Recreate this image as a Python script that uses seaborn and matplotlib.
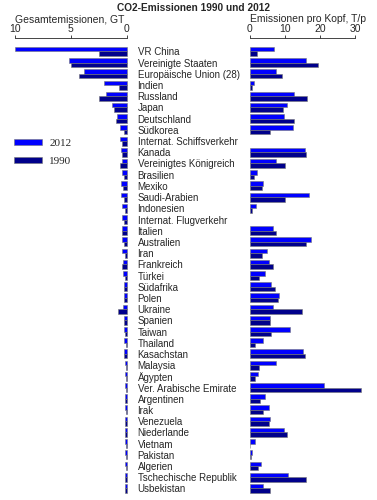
# -*- coding: utf-8 -*-
"""
CO2-Emissionen 1990 und 2012 - Gesamt und pro Kopf
"""

import numpy as np
import pandas as pd
import matplotlib
matplotlib.use('Agg')
import matplotlib.pyplot as plt
import seaborn as sns

laender = ['VR China', 'Vereinigte Staaten', 'Europäische Union (28)', 'Indien', 'Russland',
           'Japan', 'Deutschland', 'Südkorea', 'Internat. Schiffsverkehr', 'Kanada',
           'Vereinigtes Königreich', 'Brasilien', 'Mexiko', 'Saudi-Arabien', 'Indonesien',
           'Internat. Flugverkehr', 'Italien', 'Australien', 'Iran', 'Frankreich',
           'Türkei', 'Südafrika', 'Polen', 'Ukraine', 'Spanien',
           'Taiwan', 'Thailand', 'Kasachstan', 'Malaysia', 'Ägypten',
           'Ver. Arabische Emirate', 'Argentinen', 'Irak', 'Venezuela', 'Niederlande',
           'Vietnam', 'Pakistan', 'Algerien', 'Tschechische Republik', 'Usbekistan']

# Gesamtemissionen in GT
gt_2012 = [10.0, 5.2, 3.8, 2.0, 1.8, 1.3, 0.82, 0.61, 0.62, 0.5,
           0.38, 0.44, 0.45, 0.45, 0.42, 0.4, 0.38, 0.38, 0.36, 0.34,
           0.28, 0.26, 0.23, 0.27, 0.26, 0.26, 0.24, 0.23, 0.17, 0.14,
           0.14, 0.13, 0.13, 0.13, 0.15, 0.12, 0.13, 0.1, 0.11, 0.11]
gt_1990 = [2.5, 5.0, 4.3, 0.67, 2.46, 1.15, 0.97, 0.22, 0.38, 0.43,
           0.58, 0.18, 0.28, 0.25, 0.13, 0.22, 0.37, 0.23, 0.16, 0.37,
           0.15, 0.26, 0.25, 0.73, 0.2, 0.13, 0.06, 0.25, 0.06, 0.08,
           0.06, 0.1, 0.06, 0.1, 0.16, 0.02, 0.06, 0.07, 0.16, 0.12]

# Emissionen pro Kopf in T/p
nan = np.nan
tp_2012 = [7.1, 16.1, 7.4, 1.4, 12.6, 10.6, 9.9, 12.5, nan, 15.7,
           7.6, 2.2, 3.9, 16.8, 1.8, nan, 6.6, 17.6, 5.1, 5.6,
           4.4, 6.1, 8.3, 6.7, 5.9, 11.5, 3.9, 15.2, 7.5, 2.5,
           21.1, 4.3, 5.5, 5.7, 9.7, 1.7, 0.7, 3.2, 10.9, 3.9]
tp_1990 = [2.1, 19.6, 9.1, 0.8, 16.4, 9.4, 12.6, 5.8, nan, 16.1,
           10.1, 1.3, 3.5, 10.0, 0.7, nan, 7.4, 16.0, 3.5, 6.8,
           2.6, 7.2, 8.0, 14.8, 5.8, 6.1, 1.5, 15.8, 2.8, 1.5,
           31.7, 3.1, 3.9, 5.5, 10.8, 0.2, 0.5, 2.5, 16.1, 5.9]

jahre = ['2012', '1990']
farben = {'2012': '#0000ff', '1990': '#00008b'}

df = pd.concat([
    pd.DataFrame({'Land': laender, 'Jahr': '2012', 'GT': gt_2012, 'TP': tp_2012}),
    pd.DataFrame({'Land': laender, 'Jahr': '1990', 'GT': gt_1990, 'TP': tp_1990}),
], ignore_index=True)

sns.set_style('white')
plt.rcParams['font.family'] = ['Liberation Sans', 'DejaVu Sans']
plt.rcParams['font.size'] = 7

W, H = 377, 500
fig = plt.figure(figsize=(W / 100, H / 100), dpi=100)

top = 1 - 38 / H
bottom = 1 - 494 / H
axL = fig.add_axes([15 / W, bottom, (126.5 - 15) / W, top - bottom])
axR = fig.add_axes([249.5 / W, bottom, (355 - 249.5) / W, top - bottom])

bar_kw = dict(y='Land', hue='Jahr', order=laender, hue_order=jahre, palette=farben,
              orient='h', errorbar=None, width=0.8, edgecolor='#777777', linewidth=0.4,
              saturation=1)
sns.barplot(data=df, x='GT', ax=axL, **bar_kw)
sns.barplot(data=df, x='TP', ax=axR, legend=False, **bar_kw)

for ax in (axL, axR):
    ax.set_ylim(len(laender) - 0.5, -1.2)
    for s in ('left', 'right', 'bottom'):
        ax.spines[s].set_visible(False)
    ax.spines['top'].set_linewidth(0.6)
    ax.xaxis.tick_top()
    ax.xaxis.set_label_position('top')
    ax.tick_params(axis='x', direction='out', length=2.5, width=0.6, pad=0.3, labelsize=7.5)
    ax.set_ylabel('')
    for p in ax.patches:
        p.set_clip_on(False)

axL.set_xlim(10, 0)
axL.set_xticks([10, 5, 0])
axL.set_xlabel('Gesamtemissionen, GT', loc='left', fontsize=7.5, labelpad=1.2)
axL.yaxis.tick_right()
axL.tick_params(axis='y', length=0, pad=8)
axL.set_yticks(range(len(laender)))
axL.set_yticklabels(laender, ha='left', fontsize=7)

axR.set_xlim(0, 30)
axR.set_xticks([0, 10, 20, 30])
axR.set_xlabel('Emissionen pro Kopf, T/p', loc='left', fontsize=7.5, labelpad=1.2)
axR.set_yticks([])

handles, labels = axL.get_legend_handles_labels()
axL.get_legend().remove()
fig.legend(handles, labels, loc='upper left', bbox_to_anchor=(8 / W, 1 - 133 / H),
           frameon=False, handlelength=2.6, handleheight=0.5, labelspacing=0.8,
           borderpad=0, handletextpad=0.6, prop={'family': 'Liberation Serif', 'size': 8})

fig.suptitle('CO2-Emissionen 1990 und 2012', x=193 / W, y=1 - 3 / H, va='top',
             fontsize=7.3, fontweight='bold')

fig.savefig('out.png', dpi=100)
plt.close(fig)
